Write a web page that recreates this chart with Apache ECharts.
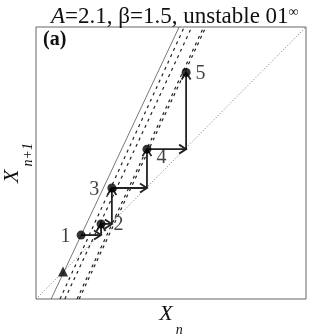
<!DOCTYPE html>
<html><head><meta charset="utf-8">
<script src="https://cdn.jsdelivr.net/npm/echarts@6/dist/echarts.min.js"></script>
<style>html,body{margin:0;padding:0;background:#fff}#c{width:312px;height:334px}</style>
</head><body><div id="c"></div>
<script>
// ---- data ----
const diagX = [0, 1], diagY = [0, 1];
const solidX = [0.056, 0.530], solidY = [0, 1];
const dashAX = [0.089, 0.549], dashAY = [0, 1];
const dashBX = [0.107, 0.577], dashBY = [0, 1];
const dbl1X = [0.152, 0.621], dbl2X = [0.160, 0.629], dblY = [0, 1];
const pointNames = ['1', '2', '3', '4', '5'];
const pointX = [0.167, 0.241, 0.281, 0.411, 0.556];
const pointY = [0.235, 0.276, 0.408, 0.551, 0.833];
const triX = [0.100], triY = [0.101];
const labelSide = ['left', 'right', 'left', 'right', 'right'];
const labelOffset = [[-1, 2], [3, 1], [-3, 2], [0, 9], [0, 1]];

const zip = (xs, ys) => xs.map((x, i) => [x, ys[i]]);
const serif = '"Liberation Serif", "DejaVu Serif", serif';

// cobweb segments (horizontal to diagonal, then vertical to next point)
const segs = [];
for (let i = 0; i < pointX.length - 1; i++) {
  segs.push([pointX[i], pointY[i], pointX[i + 1], pointY[i]]);
  segs.push([pointX[i + 1], pointY[i], pointX[i + 1], pointY[i + 1]]);
}

const lineSeries = (data, style) => ({
  type: 'line', data, symbol: 'none', silent: true, animation: false,
  lineStyle: style, z: 2
});

const nameRich = {
  x: { fontFamily: serif, fontSize: 22, fontStyle: 'italic', color: '#111', verticalAlign: 'top', lineHeight: 22 },
  s: { fontFamily: serif, fontSize: 14, fontStyle: 'italic', color: '#111', verticalAlign: 'bottom', padding: [0, 0, 0, 3], lineHeight: 14 },
  g: { lineHeight: 34, width: 0 }
};

const chart = echarts.init(document.getElementById('c'), null, { renderer: 'canvas' });
chart.setOption({
  animation: false,
  backgroundColor: '#fff',
  title: {
    text: '{i|A}=2.1, β=1.5, unstable 01{sup|∞}',
    left: 46, top: 0,
    textStyle: {
      fontFamily: serif, fontSize: 23, fontWeight: 'normal', color: '#111',
      rich: {
        i: { fontFamily: serif, fontSize: 23, fontStyle: 'italic', color: '#111' },
        sup: { fontFamily: serif, fontSize: 14, color: '#111', verticalAlign: 'top', padding: [0, 0, 8, 0] }
      }
    }
  },
  graphic: [{
    type: 'text', left: 43, top: 30,
    style: { text: '(a)', font: 'bold 20px ' + serif, fill: '#111' }
  }],
  grid: {
    left: 36, top: 27, width: 270, height: 272, containLabel: false, outerBoundsMode: 'none',
    show: true, borderColor: '#666', borderWidth: 1, backgroundColor: 'transparent'
  },
  xAxis: {
    type: 'value', min: 0, max: 1,
    axisLine: { show: false }, axisTick: { show: false }, axisLabel: { show: false }, splitLine: { show: false },
    name: '{g|}{x|X}{s|n}', nameLocation: 'middle', nameGap: 4,
    nameTextStyle: { rich: nameRich }
  },
  yAxis: {
    type: 'value', min: 0, max: 1,
    axisLine: { show: false }, axisTick: { show: false }, axisLabel: { show: false }, splitLine: { show: false },
    name: '{g|}{x|X}{s|n+1}', nameLocation: 'middle', nameGap: 1, nameRotate: 90,
    nameTextStyle: { rich: nameRich }
  },
  series: [
    lineSeries(zip(diagX, diagY), { color: '#777', width: 1, type: [1, 2] }),
    lineSeries(zip(solidX, solidY), { color: '#555', width: 0.8, type: 'solid' }),
    lineSeries(zip(dashAX, dashAY), { color: '#222', width: 1.2, type: [3, 4] }),
    lineSeries(zip(dashBX, dashBY), { color: '#222', width: 1.2, type: [3, 4] }),
    lineSeries(zip(dbl1X, dblY), { color: '#222', width: 1.2, type: [3, 4] }),
    lineSeries(zip(dbl2X, dblY), { color: '#222', width: 1.2, type: [3, 4] }),
    {
      type: 'custom', data: segs, z: 4, silent: true,
      encode: { x: [0, 2], y: [1, 3] },
      renderItem(params, api) {
        const p0 = api.coord([api.value(0), api.value(1)]);
        const p1 = api.coord([api.value(2), api.value(3)]);
        const dx = p1[0] - p0[0], dy = p1[1] - p0[1];
        const L = Math.hypot(dx, dy) || 1;
        const ux = dx / L, uy = dy / L;
        const h = 7, w = 4.5;
        const a = [p1[0] - ux * h - uy * w, p1[1] - uy * h + ux * w];
        const b = [p1[0] - ux * h + uy * w, p1[1] - uy * h - ux * w];
        return {
          type: 'group', children: [
            { type: 'line', shape: { x1: p0[0], y1: p0[1], x2: p1[0], y2: p1[1] }, style: { stroke: '#222', lineWidth: 1.8 } },
            { type: 'polyline', shape: { points: [a, p1, b] }, style: { stroke: '#222', lineWidth: 1.8, fill: null } }
          ]
        };
      }
    },
    {
      type: 'scatter', z: 5, symbol: 'circle', symbolSize: 9,
      itemStyle: { color: '#000' },
      data: pointX.map((x, i) => ({
        value: [x, pointY[i]], name: pointNames[i],
        label: { show: true, position: labelSide[i], distance: 5, offset: labelOffset[i], formatter: '{b}' }
      })),
      label: { fontFamily: serif, fontSize: 20, color: '#111' }
    },
    {
      type: 'scatter', z: 5, symbol: 'triangle', symbolSize: 10,
      itemStyle: { color: '#000' },
      data: zip(triX, triY)
    }
  ]
});
</script></body></html>
